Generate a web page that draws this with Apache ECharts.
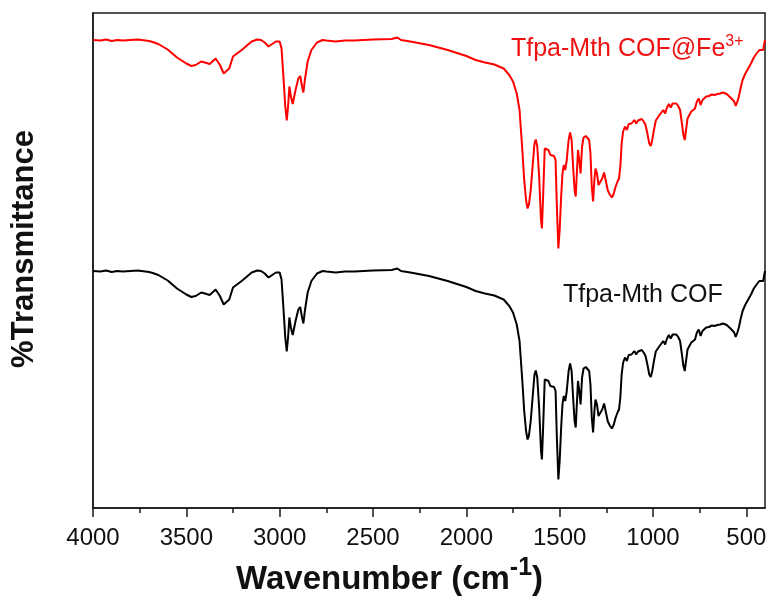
<!DOCTYPE html>
<html>
<head>
<meta charset="utf-8">
<script src="https://cdn.jsdelivr.net/npm/echarts@6/dist/echarts.min.js"></script>
<style>html,body{margin:0;padding:0;background:#fff}#c{width:777px;height:601px}</style>
</head>
<body>
<div id="c"></div>
<script>
// Wavenumbers (cm-1)
const wavenumbers = [4000,3960,3930,3900,3870,3840,3800,3760,3720,3700,
3680,3650,3600,3550,3500,3473,3450,3420,3400,3375,
3343,3320,3300,3290,3270,3250,3200,3150,3120,3100,
3080,3060,3040,3020,3010,3000,2990,2980,2970,2962,
2955,2948,2940,2930,2915,2900,2890,2880,2873,2865,
2850,2830,2800,2770,2750,2700,2650,2600,2500,2400,
2370,2350,2300,2200,2100,2000,1950,1900,1850,1800,
1770,1750,1730,1715,1700,1690,1680,1672,1665,1655,
1645,1635,1628,1620,1610,1600,1595,1588,1580,1570,
1560,1550,1540,1530,1522,1515,1507,1500,1492,1485,
1478,1470,1462,1452,1444,1436,1428,1420,1414,1408,
1402,1395,1388,1380,1372,1360,1350,1342,1335,1328,
1321,1314,1308,1300,1292,1283,1272,1262,1252,1242,
1230,1220,1210,1200,1190,1182,1175,1168,1160,1150,
1140,1130,1115,1100,1090,1080,1070,1060,1050,1040,
1030,1020,1012,1004,995,985,975,965,955,945,
935,925,915,905,895,885,875,865,855,845,
837,830,822,815,805,795,785,775,765,755,
745,735,725,715,700,685,670,655,640,625,
615,605,595,585,575,565,557,548,540,530,
520,505,490,475,460,445,430,420,410,405,
400];

// Tfpa-Mth COF@Fe3+ (red, offset upper trace)
const fe3Values = [93.6,93.5,93.7,93.4,93.6,93.5,93.6,93.7,93.5,93.4,
93.2,92.8,91.7,90.1,88.9,88.4,88.6,89.3,89.1,88.8,
89.9,88.6,86.9,86.7,87.9,90.3,91.7,93.3,93.7,93.6,
93.1,92.3,92.8,93.3,93.7,93.3,91.9,86.3,80.3,77.5,
80.3,84.3,82.3,80.8,83.6,85.9,86.4,84.3,83.1,85.6,
89.3,91.6,93.1,93.6,93.5,93.3,93.5,93.5,93.7,93.8,
94.1,93.6,93.3,92.6,91.6,90.4,89.6,89.1,88.7,87.9,
86.6,85.3,82.9,79.6,71.6,65.6,61.6,59.9,60.6,63.6,
68.3,72.9,73.7,72.3,66.3,57.6,55.9,63.0,71.9,71.5,
71.6,70.6,70.8,70.4,69.6,60.3,51.9,55.6,62.3,66.9,
68.6,67.6,69.6,73.6,75.1,73.6,68.3,63.6,62.3,66.9,
71.6,69.6,66.9,72.3,74.1,74.4,74.3,73.6,70.9,64.3,
61.3,65.6,67.9,66.9,64.6,64.6,65.9,67.1,65.3,63.5,
62.6,62.1,62.9,64.3,65.3,65.9,68.3,72.9,75.3,76.3,
75.6,76.8,76.9,77.6,76.9,77.5,77.1,77.8,77.3,76.6,
74.9,72.9,72.4,73.6,75.6,77.5,77.9,78.6,78.9,79.6,
78.9,80.1,80.8,80.1,80.9,80.6,80.9,80.4,79.6,76.9,
74.6,73.6,75.9,77.9,78.6,79.3,78.9,79.9,81.3,81.9,
80.6,81.6,81.3,82.3,82.4,82.7,82.6,82.8,82.9,83.1,
83.4,82.8,82.4,82.1,81.9,81.3,80.4,81.3,82.3,84.1,
85.6,86.9,87.9,88.9,90.1,90.9,91.6,91.9,91.6,92.6,
93.6];

// Tfpa-Mth COF (black, lower trace)
const cofValues = [47.4,47.3,47.5,47.2,47.4,47.3,47.4,47.5,47.3,47.2,
47.0,46.6,45.5,43.9,42.7,42.2,42.4,43.1,42.9,42.6,
43.7,42.4,40.7,40.5,41.7,44.1,45.5,47.1,47.5,47.4,
46.9,46.1,46.6,47.1,47.5,47.1,45.7,40.1,34.1,31.3,
34.1,38.1,36.1,34.6,37.4,39.7,40.2,38.1,36.9,39.4,
43.1,45.4,46.9,47.4,47.3,47.1,47.3,47.3,47.5,47.6,
47.9,47.4,47.1,46.4,45.4,44.2,43.4,42.9,42.5,41.7,
40.4,39.1,36.7,33.4,25.4,19.4,15.4,13.7,14.4,17.4,
22.1,26.7,27.5,26.1,20.1,11.4,9.7,16.8,25.7,25.3,
25.4,24.4,24.6,24.2,23.4,14.1,5.7,9.4,16.1,20.7,
22.4,21.4,23.4,27.4,28.9,27.4,22.1,17.4,16.1,20.7,
25.4,23.4,20.7,26.1,27.9,28.2,28.1,27.4,24.7,18.1,
15.1,19.4,21.7,20.7,18.4,18.4,19.7,20.9,19.1,17.3,
16.4,15.9,16.7,18.1,19.1,19.7,22.1,26.7,29.1,30.1,
29.4,30.6,30.7,31.4,30.7,31.3,30.9,31.6,31.1,30.4,
28.7,26.7,26.2,27.4,29.4,31.3,31.7,32.4,32.7,33.4,
32.7,33.9,34.6,33.9,34.7,34.4,34.7,34.2,33.4,30.7,
28.4,27.4,29.7,31.7,32.4,33.1,32.7,33.7,35.1,35.7,
34.4,35.4,35.1,36.1,36.2,36.5,36.4,36.6,36.7,36.9,
37.2,36.6,36.2,35.9,35.7,35.1,34.2,35.1,36.1,37.9,
39.4,40.7,41.7,42.7,43.9,44.7,45.4,45.7,45.4,46.4,
47.4];

const majorTicks = [500,1000,1500,2000,2500,3000,3500,4000];
const minorTicks = [750,1250,1750,2250,2750,3250,3750];

const zip = (xs, ys) => xs.map((x, i) => [x, ys[i]]);

const chart = echarts.init(document.getElementById('c'), null, {renderer: 'canvas'});
const axisColor = '#1a1a1a';
const sans = '"Liberation Sans", Arial, sans-serif';

chart.setOption({
  animation: false,
  backgroundColor: '#fff',
  grid: {left: 93, right: 12, top: 13, bottom: 93, show: true, borderColor: axisColor, borderWidth: 1.5, backgroundColor: 'transparent'},
  xAxis: [{
    type: 'value', min: 400, max: 4000, inverse: true, position: 'bottom',
    axisLine: {show: true, lineStyle: {color: axisColor, width: 1.5}},
    axisTick: {show: true, customValues: majorTicks, length: 9, inside: false, lineStyle: {color: axisColor, width: 1.5}},
    axisLabel: {show: true, customValues: majorTicks, formatter: v => String(v), fontFamily: sans, fontSize: 24, color: '#111', margin: 18},
    splitLine: {show: false}
  }, {
    type: 'value', min: 400, max: 4000, inverse: true, position: 'bottom', offset: 0,
    axisLine: {show: false},
    axisTick: {show: true, customValues: minorTicks, length: 5, inside: false, lineStyle: {color: axisColor, width: 1.5}},
    axisLabel: {show: false},
    splitLine: {show: false}
  }],
  yAxis: {
    type: 'value', min: 0, max: 99,
    axisLine: {show: true, lineStyle: {color: axisColor, width: 1.5}},
    axisTick: {show: false}, axisLabel: {show: false}, splitLine: {show: false}
  },
  series: [{
    name: 'Tfpa-Mth COF@Fe3+', type: 'line', xAxisIndex: 0, data: zip(wavenumbers, fe3Values),
    showSymbol: false, symbol: 'none', lineStyle: {color: '#ff0000', width: 2}, itemStyle: {color: '#ff0000'}
  }, {
    name: 'Tfpa-Mth COF', type: 'line', xAxisIndex: 0, data: zip(wavenumbers, cofValues),
    showSymbol: false, symbol: 'none', lineStyle: {color: '#000000', width: 2}, itemStyle: {color: '#000000'}
  }],
  graphic: [{
    type: 'text', left: 511, top: 34,
    style: {
      text: '{a|Tfpa-Mth COF@Fe}{b|3+}',
      rich: {
        a: {fontFamily: sans, fontSize: 25, fill: '#ee1111', lineHeight: 28, verticalAlign: 'bottom'},
        b: {fontFamily: sans, fontSize: 16, fill: '#ee1111', lineHeight: 28, verticalAlign: 'top'}
      }
    }
  }, {
    type: 'text', left: 563, top: 283,
    style: {text: 'Tfpa-Mth COF', fontFamily: sans, fontSize: 25, fill: '#111'}
  }, {
    type: 'text', left: 236, top: 556,
    style: {
      text: '{a|Wavenumber (cm}{b|-1}{a|)}',
      rich: {
        a: {fontFamily: sans, fontWeight: 'bold', fontSize: 33, fill: '#111', lineHeight: 40, verticalAlign: 'bottom'},
        b: {fontFamily: sans, fontWeight: 'bold', fontSize: 25, fill: '#111', lineHeight: 40, verticalAlign: 'top'}
      }
    }
  }, {
    type: 'text', x: 24, y: 249, rotation: Math.PI / 2,
    style: {text: '%Transmittance', fontFamily: sans, fontWeight: 'bold', fontSize: 31, fill: '#111', align: 'center', verticalAlign: 'middle'}
  }]
});
</script>
</body>
</html>
